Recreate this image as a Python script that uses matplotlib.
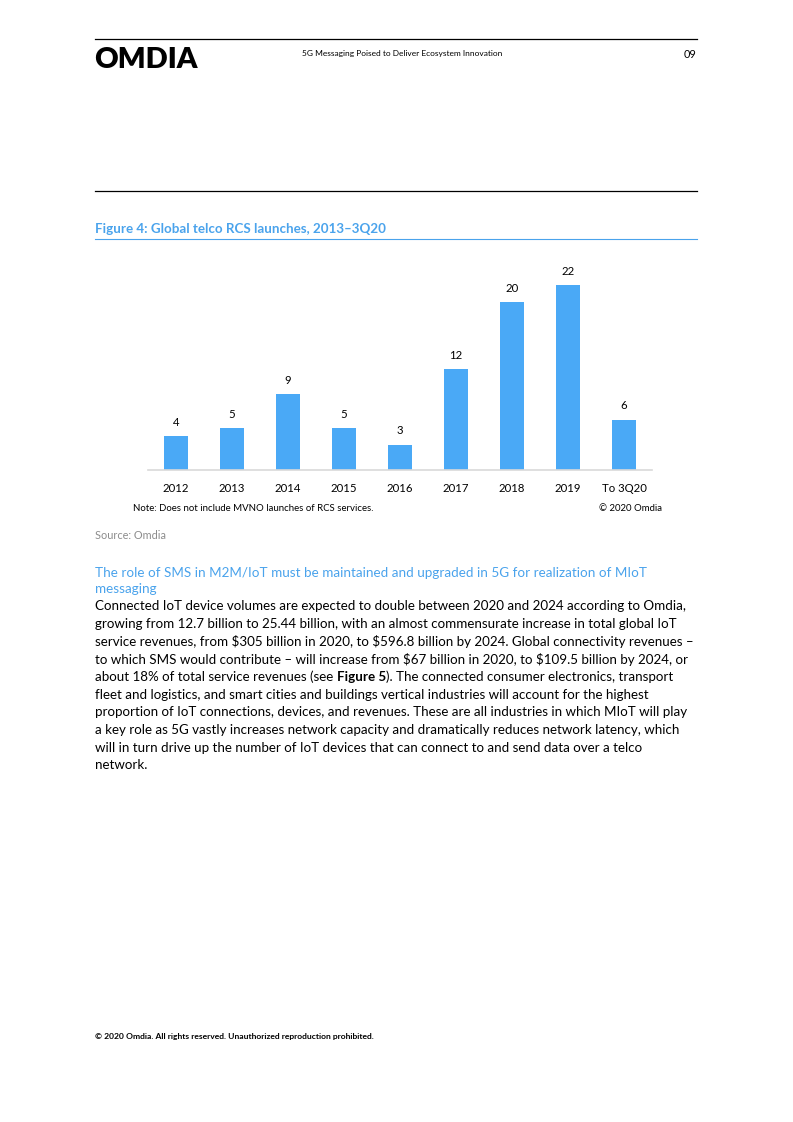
import matplotlib.pyplot as plt

# chart data
categories = ['2012', '2013', '2014', '2015', '2016', '2017', '2018', '2019', 'To 3Q20']
launches = [4, 5, 9, 5, 3, 12, 20, 22, 6]

BAR_COLOR = '#4aa9f6'
TITLE_BLUE = '#4aa3ec'
FONT = 'Lato'
BODY_SIZE = 9.68

body_lines = [
    'Connected IoT device volumes are expected to double between 2020 and 2024 according to Omdia,',
    'growing from 12.7 billion to 25.44 billion, with an almost commensurate increase in total global IoT',
    'service revenues, from $305 billion in 2020, to $596.8 billion by 2024. Global connectivity revenues \u2013',
    'to which SMS would contribute \u2013 will increase from $67 billion in 2020, to $109.5 billion by 2024, or',
    None,  # line with bold part, built below
    'fleet and logistics, and smart cities and buildings vertical industries will account for the highest',
    'proportion of IoT connections, devices, and revenues. These are all industries in which MIoT will play',
    'a key role as 5G vastly increases network capacity and dramatically reduces network latency, which',
    'will in turn drive up the number of IoT devices that can connect to and send data over a telco',
    'network.',
]
bold_line = ('about 18% of total service revenues (see ', 'Figure 5', '). The connected consumer electronics, transport')

fig = plt.figure(figsize=(7.93, 11.22), dpi=100)
fig.patch.set_facecolor('white')

# page overlay in pixel coordinates
page = fig.add_axes([0, 0, 1, 1])
page.set_xlim(0, 793)
page.set_ylim(1122, 0)
page.axis('off')

# header
page.plot([95, 697], [39, 39], color='black', lw=0.9)
page.text(94, 60, 'OMDIA', fontsize=21, fontweight='heavy', family=FONT, va='center', ha='left')
page.text(302, 53, '5G Messaging Poised to Deliver Ecosystem Innovation', fontsize=6.0, family=FONT,
          va='center', ha='left')
page.text(696, 54, '09', fontsize=7.8, family=FONT, va='center', ha='right')
page.plot([95, 697], [191, 191], color='black', lw=0.9)

# figure title
page.text(95, 229, 'Figure 4: Global telco RCS launches, 2013\u20133Q20', fontsize=9.6, fontweight='bold',
          color=TITLE_BLUE, family=FONT, va='center', ha='left')
page.plot([95, 697], [239, 239], color=TITLE_BLUE, lw=0.8)

# chart
ax = fig.add_axes([148 / 793, 1 - 470 / 1122, 504 / 793, 210 / 1122])
x = range(len(categories))
bars = ax.bar(x, launches, width=0.44, color=BAR_COLOR)
ax.bar_label(bars, padding=6, fontsize=8.2, family=FONT)
ax.set_xlim(-0.5, len(categories) - 0.5)
ax.set_ylim(0, 25)
ax.set_xticks(list(x))
ax.set_xticklabels(categories, fontsize=8.2, family=FONT)
ax.tick_params(axis='x', length=0, pad=9)
ax.set_yticks([])
for side in ['top', 'right', 'left']:
    ax.spines[side].set_visible(False)
ax.spines['bottom'].set_color('#d9d9d9')
ax.spines['bottom'].set_linewidth(1.2)

page.text(133, 508, 'Note: Does not include MVNO launches of RCS services.', fontsize=6.9, family=FONT,
          va='center', ha='left')
page.text(662, 508, '\u00a9 2020 Omdia', fontsize=6.9, family=FONT, va='center', ha='right')
page.text(95, 535, 'Source: Omdia', fontsize=7.8, color='#8c8c8c', family=FONT, va='center', ha='left')

# section heading
page.text(95, 573, 'The role of SMS in M2M/IoT must be maintained and upgraded in 5G for realization of MIoT',
          fontsize=9.75, color=TITLE_BLUE, family=FONT, va='center', ha='left')
page.text(95, 589, 'messaging', fontsize=9.75, color=TITLE_BLUE, family=FONT, va='center', ha='left')

# body paragraph
y0, dy = 606, 17.7
for i, line in enumerate(body_lines):
    y = y0 + i * dy
    if line is not None:
        page.text(95, y, line, fontsize=BODY_SIZE, family=FONT, va='center', ha='left', parse_math=False)
    else:
        t1 = page.text(95, y, bold_line[0], fontsize=BODY_SIZE, family=FONT, va='center', ha='left')
        t2 = page.annotate(bold_line[1], xy=(1, 0), xycoords=t1, fontsize=BODY_SIZE, family=FONT,
                           fontweight='bold', va='bottom', ha='left')
        page.annotate(bold_line[2], xy=(1, 0), xycoords=t2, fontsize=BODY_SIZE, family=FONT,
                      va='bottom', ha='left')

# footer
page.text(95, 1037, '\u00a9 2020 Omdia. All rights reserved. Unauthorized reproduction prohibited.',
          fontsize=6.1, fontweight='bold', family=FONT, va='center', ha='left')

fig.savefig('out.png', dpi=100, facecolor='white')
